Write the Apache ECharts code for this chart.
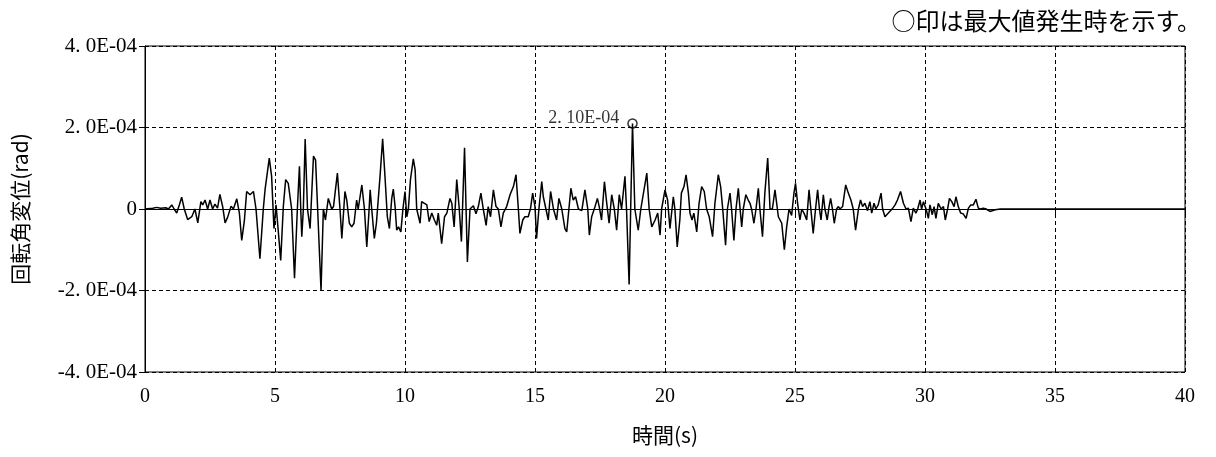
<!DOCTYPE html>
<html>
<head>
<meta charset="utf-8">
<script src="https://cdn.jsdelivr.net/npm/echarts@6/dist/echarts.min.js"></script>
<style>html,body{margin:0;padding:0;background:#fff;}#c{width:1216px;height:457px;}</style>
</head>
<body>
<div id="c"></div>
<script>
// time (s)
const timeS = [0,0.3,0.45,0.6,0.8,0.9,1.03,1.12,1.22,1.32,1.41,1.51,1.64,1.8,1.92,2.03,2.15,2.22,2.31,2.41,2.5,2.6,2.69,2.79,2.88,2.99,3.08,3.18,3.31,3.4,3.53,3.63,3.72,3.82,3.91,4.04,4.17,4.27,4.42,4.55,4.62,4.68,4.78,4.87,4.96,5.04,5.09,5.22,5.32,5.41,5.51,5.64,5.75,5.86,5.94,5.99,6.03,6.09,6.16,6.25,6.35,6.48,6.56,6.64,6.77,6.86,6.94,7.05,7.12,7.18,7.25,7.4,7.5,7.57,7.69,7.76,7.86,7.95,8.04,8.14,8.2,8.34,8.44,8.53,8.62,8.66,8.72,8.82,8.9,9.04,9.14,9.23,9.32,9.4,9.49,9.55,9.62,9.68,9.75,9.84,9.92,10.0,10.07,10.13,10.21,10.32,10.39,10.45,10.58,10.64,10.71,10.84,10.93,11.03,11.13,11.22,11.28,11.41,11.52,11.61,11.73,11.8,11.89,11.99,12.08,12.17,12.29,12.4,12.5,12.56,12.63,12.73,12.82,12.92,13.01,13.12,13.2,13.29,13.4,13.5,13.59,13.69,13.78,13.91,14.04,14.17,14.27,14.36,14.42,14.53,14.61,14.74,14.83,14.91,15.0,15.06,15.15,15.26,15.32,15.42,15.51,15.6,15.71,15.83,15.92,16.03,16.15,16.22,16.38,16.47,16.56,16.67,16.8,16.92,17.03,17.09,17.18,17.31,17.4,17.47,17.56,17.67,17.76,17.85,17.95,18.05,18.14,18.24,18.33,18.41,18.46,18.52,18.62,18.68,18.75,18.84,18.97,19.07,19.3,19.39,19.49,19.62,19.72,19.81,19.87,20.0,20.1,20.19,20.32,20.38,20.47,20.57,20.63,20.73,20.81,20.9,20.96,21.04,21.11,21.22,21.31,21.41,21.51,21.6,21.7,21.83,21.92,22.05,22.14,22.22,22.33,22.4,22.5,22.56,22.65,22.73,22.82,22.88,22.95,23.01,23.11,23.2,23.27,23.33,23.42,23.5,23.59,23.65,23.75,23.84,23.95,24.04,24.13,24.23,24.36,24.49,24.59,24.68,24.77,24.87,24.96,25.02,25.1,25.19,25.26,25.36,25.45,25.54,25.61,25.7,25.79,25.87,25.94,26.0,26.09,26.15,26.24,26.31,26.37,26.44,26.51,26.6,26.67,26.73,26.83,26.95,27.05,27.15,27.24,27.33,27.44,27.52,27.6,27.69,27.79,27.88,27.95,28.04,28.11,28.2,28.31,28.37,28.46,28.59,28.76,28.85,28.94,29.06,29.17,29.27,29.36,29.46,29.55,29.65,29.72,29.81,29.87,29.94,30.04,30.13,30.19,30.28,30.35,30.42,30.51,30.62,30.71,30.78,30.87,30.94,31.03,31.12,31.19,31.28,31.37,31.47,31.58,31.67,31.76,31.86,31.96,32.05,32.14,32.24,32.35,32.5,32.7,32.9,40];
// rotation angle displacement (x 1E-04 rad)
const rotE4 = [0,0.02,0.04,0.02,0.03,0.0,0.1,0.0,-0.1,0.1,0.29,0.0,-0.26,-0.19,0.0,-0.34,0.18,0.1,0.22,0.0,0.22,0.0,0.12,0.02,0.36,0.05,-0.34,-0.2,0.07,0.0,0.25,-0.1,-0.77,-0.3,0.43,0.35,0.43,0.0,-1.22,0.0,0.49,0.51,1.25,0.8,-0.48,0.1,-0.27,-1.26,0.06,0.72,0.63,0.0,-1.7,0.0,1.05,0.0,-0.68,0.0,1.72,0.0,-0.48,1.3,1.2,0.0,-2.0,0.0,-0.27,0.26,0.22,0.0,0.06,0.88,0.0,-0.72,0.43,0.22,-0.35,-0.44,-0.35,0.22,0.0,0.59,0.0,-0.93,0.0,0.47,0.0,-0.72,-0.35,0.8,1.72,0.8,-0.19,-0.48,0.26,0.49,0.05,-0.52,-0.44,-0.56,0.0,0.43,-0.19,0.0,0.72,1.23,0.96,0.0,-0.35,0.18,0.22,0.1,-0.31,-0.1,-0.27,-0.4,-0.1,-0.85,-0.19,-0.1,0.26,0.14,-0.44,0.72,0.06,-0.8,1.5,-1.3,0.0,0.0,0.08,-0.12,0.06,0.39,0.0,-0.4,0.06,-0.19,0.47,0.06,0.0,-0.44,-0.1,0.06,0.35,0.55,0.84,0.0,-0.6,-0.27,-0.19,-0.19,0.02,0.39,0.06,-0.72,0.0,0.67,0.3,0.0,-0.27,0.43,0.0,-0.27,0.26,0.0,-0.48,-0.56,0.51,0.22,0.3,0.0,-0.04,0.47,0.0,-0.64,-0.19,0.06,0.26,0.06,-0.27,0.67,0.14,-0.35,0.35,0.0,-0.52,0.35,0.0,0.49,0.8,0.0,-1.85,0.0,2.1,0.0,-0.52,0.0,0.88,0.0,-0.44,-0.27,-0.1,-0.64,0.0,0.47,0.22,-0.48,0.3,0.0,-0.93,-0.27,0.39,0.55,0.84,0.39,-0.1,-0.27,-0.1,-0.56,0.14,0.55,0.43,0.0,-0.19,-0.68,0.14,0.84,0.55,0.0,-0.89,0.0,0.39,0.0,-0.77,0.0,0.51,0.06,-0.44,0.0,0.35,0.22,0.14,0.0,-0.35,0.0,0.51,0.0,-0.68,0.39,1.25,0.0,0.0,0.47,-0.19,-0.35,-1.0,-0.44,0.0,-0.16,0.39,0.63,0.14,-0.27,0.0,-0.12,-0.27,0.47,0.0,-0.6,0.0,0.47,0.0,-0.27,0.35,0.0,-0.27,0.06,0.26,0.0,-0.35,0.0,0.06,0.0,0.06,0.59,0.39,0.22,0.0,-0.52,0.0,0.22,0.06,0.14,-0.04,0.18,-0.1,0.14,0.0,0.1,0.39,0.0,-0.19,-0.1,0.02,0.1,0.22,0.43,0.14,0.0,0.02,-0.31,0.02,-0.1,0.0,0.22,0.0,0.18,0.0,-0.23,0.1,-0.14,0.06,-0.23,0.14,0.0,0.06,-0.27,0.0,0.26,0.18,0.06,0.3,0.06,-0.1,-0.12,-0.23,0.02,0.1,0.1,0.24,0.02,0.0,0.02,0.0,-0.06,-0.02,0.0,0];
// maximum point
const peakT = [18.75];
const peakE4 = [2.10];
const peakLabel = ['2. 10E-04'];
const yTicks = [-4, -2, 0, 2, 4];
const xTicks = [0, 5, 10, 15, 20, 25, 30, 35, 40];
const noteText = '○印は最大値発生時を示す。';
const xName = '時間(s)';
const yName = '回転角変位(rad)';

const lineData = timeS.map((t, i) => [t, rotE4[i]]);
const peakData = peakT.map((t, i) => [t, peakE4[i]]);
const numFont = "'Liberation Serif', 'DejaVu Serif', serif";
const jpFont = "'Noto Sans CJK JP', sans-serif";

const chart = echarts.init(document.getElementById('c'), null, {renderer: 'canvas'});
chart.setOption({
  animation: false,
  backgroundColor: '#fff',
  title: {
    text: noteText, right: 10, top: 4,
    textStyle: {fontFamily: jpFont, fontSize: 24, fontWeight: 'normal', color: '#000'}
  },
  grid: {left: 145, right: 31, top: 46, bottom: 85, show: true, borderColor: '#000', borderWidth: 1, backgroundColor: 'transparent'},
  xAxis: {
    type: 'value', min: xTicks[0], max: xTicks[xTicks.length - 1], interval: 5,
    name: xName, nameLocation: 'middle', nameGap: 53,
    nameTextStyle: {fontFamily: jpFont, fontSize: 21, color: '#000'},
    axisLine: {show: true, lineStyle: {color: '#000', width: 1}},
    axisTick: {show: true, inside: false, length: 5, lineStyle: {color: '#000'}},
    axisLabel: {fontFamily: numFont, fontSize: 20, color: '#000', margin: 15},
    splitLine: {show: true, lineStyle: {color: '#000', type: [4, 3], width: 1}}
  },
  yAxis: {
    type: 'value', min: yTicks[0], max: yTicks[yTicks.length - 1], interval: 2,
    name: yName, nameLocation: 'middle', nameGap: 114, nameRotate: 90,
    nameTextStyle: {fontFamily: jpFont, fontSize: 21, color: '#000'},
    axisLine: {show: true, lineStyle: {color: '#000', width: 1}},
    axisTick: {show: true, inside: false, length: 6, lineStyle: {color: '#000'}},
    axisLabel: {
      fontFamily: numFont, fontSize: 21, color: '#000', margin: 8,
      formatter: v => v === 0 ? '0' : (v < 0 ? '-' : '') + Math.abs(v).toFixed(1).replace('.', '. ') + 'E-04'
    },
    splitLine: {show: true, lineStyle: {color: '#000', type: [4, 3], width: 1}}
  },
  series: [
    {
      type: 'line', data: lineData, showSymbol: false, symbol: 'none',
      lineStyle: {color: '#000', width: 1.5}, z: 3
    },
    {
      type: 'scatter', data: peakData, symbol: 'circle', symbolSize: 9,
      itemStyle: {color: 'transparent', borderColor: '#000', borderWidth: 1.5}, z: 4,
      label: {
        show: true, position: 'left', distance: 8, offset: [0, -5],
        formatter: p => peakLabel[p.dataIndex],
        fontFamily: numFont, fontSize: 18, color: '#000'
      }
    }
  ]
});
</script>
</body>
</html>
